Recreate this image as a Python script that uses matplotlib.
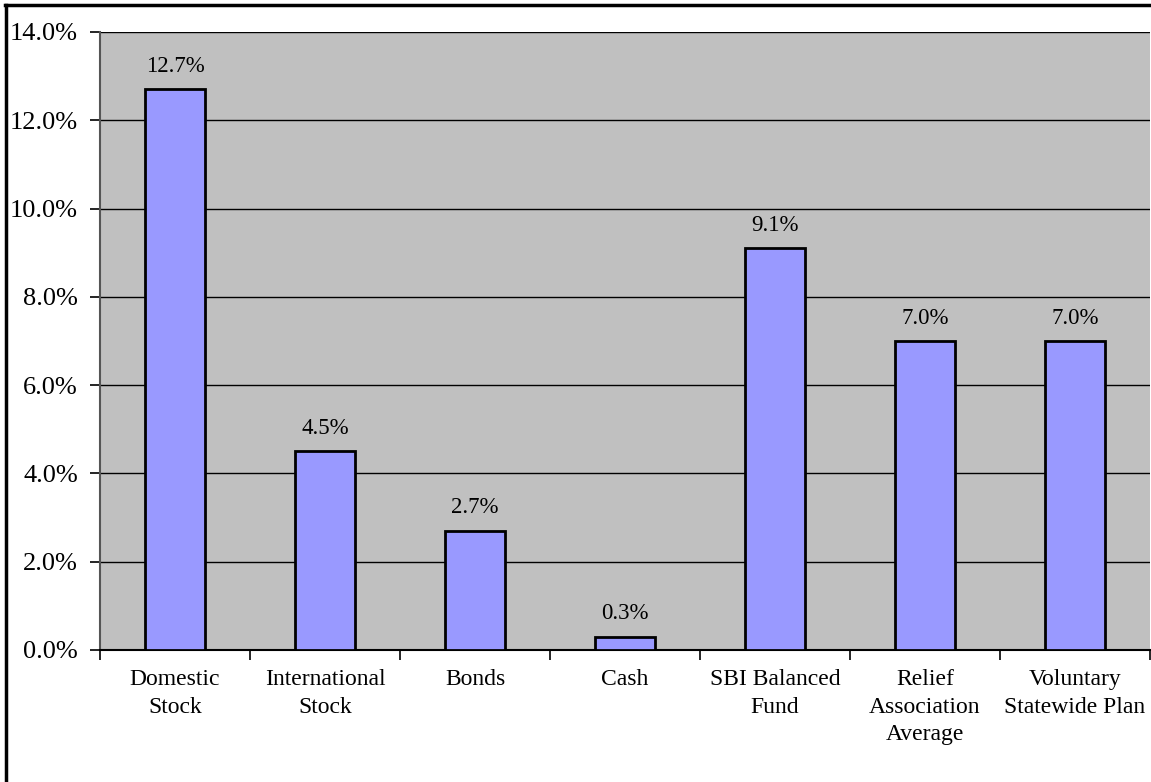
import matplotlib
matplotlib.use("Agg")
import matplotlib.pyplot as plt
from matplotlib.lines import Line2D
from matplotlib.ticker import FuncFormatter, MultipleLocator

categories = ["Domestic\nStock", "International\nStock", "Bonds", "Cash",
              "SBI Balanced\nFund", "Relief\nAssociation\nAverage",
              "Voluntary\nStatewide Plan"]
values = [12.7, 4.5, 2.7, 0.3, 9.1, 7.0, 7.0]
value_labels = ["12.7%", "4.5%", "2.7%", "0.3%", "9.1%", "7.0%", "7.0%"]

plt.rcParams['font.family'] = ['Liberation Serif', 'DejaVu Serif']

W, H = 1151, 782
fig = plt.figure(figsize=(W / 100, H / 100), dpi=100)
fig.patch.set_facecolor("white")

ax = fig.add_axes([100 / W, 1 - 650 / H, 1050 / W, 618 / H])
ax.set_facecolor("#C0C0C0")
x = list(range(len(categories)))
ax.bar(x, values, width=0.4, color="#9999FF", edgecolor="black", linewidth=2, zorder=3)

ax.set_xlim(-0.5, len(categories) - 0.5)
ax.set_ylim(0, 14)
ax.yaxis.set_major_locator(MultipleLocator(2))
ax.yaxis.set_major_formatter(FuncFormatter(lambda v, p: f"{v:.1f}%"))
ax.grid(axis="y", color="black", linewidth=1, zorder=1)
ax.set_axisbelow(True)

ax.set_xticks(x)
ax.set_xticklabels(categories, fontsize=17, linespacing=1.4)
ax.set_xticks([i - 0.5 for i in range(len(categories) + 1)], minor=True)
ax.tick_params(axis="x", which="major", length=0, pad=14)
ax.tick_params(axis="x", which="minor", length=7, width=1.2, direction="out")
ax.tick_params(axis="y", length=7, width=1.2, direction="out", labelsize=19, pad=9)

for s in ["top", "right"]:
    ax.spines[s].set_visible(False)
ax.spines["left"].set_color("#555555")
ax.spines["left"].set_linewidth(1.5)
ax.spines["bottom"].set_color("black")
ax.spines["bottom"].set_linewidth(1.5)

for xi, v, lab in zip(x, values, value_labels):
    ax.annotate(lab, (xi, v), xytext=(0, 9), textcoords="offset points",
                ha="center", va="bottom", fontsize=16.5)

# outer frame (left and top black border)
fig.add_artist(Line2D([5.5 / W, 5.5 / W], [0, 1 - 4.5 / H], color="black",
                      linewidth=2.5, transform=fig.transFigure))
fig.add_artist(Line2D([4.5 / W, 1], [1 - 4.5 / H, 1 - 4.5 / H], color="black",
                      linewidth=2.5, transform=fig.transFigure))

fig.savefig("out.png", dpi=100)
